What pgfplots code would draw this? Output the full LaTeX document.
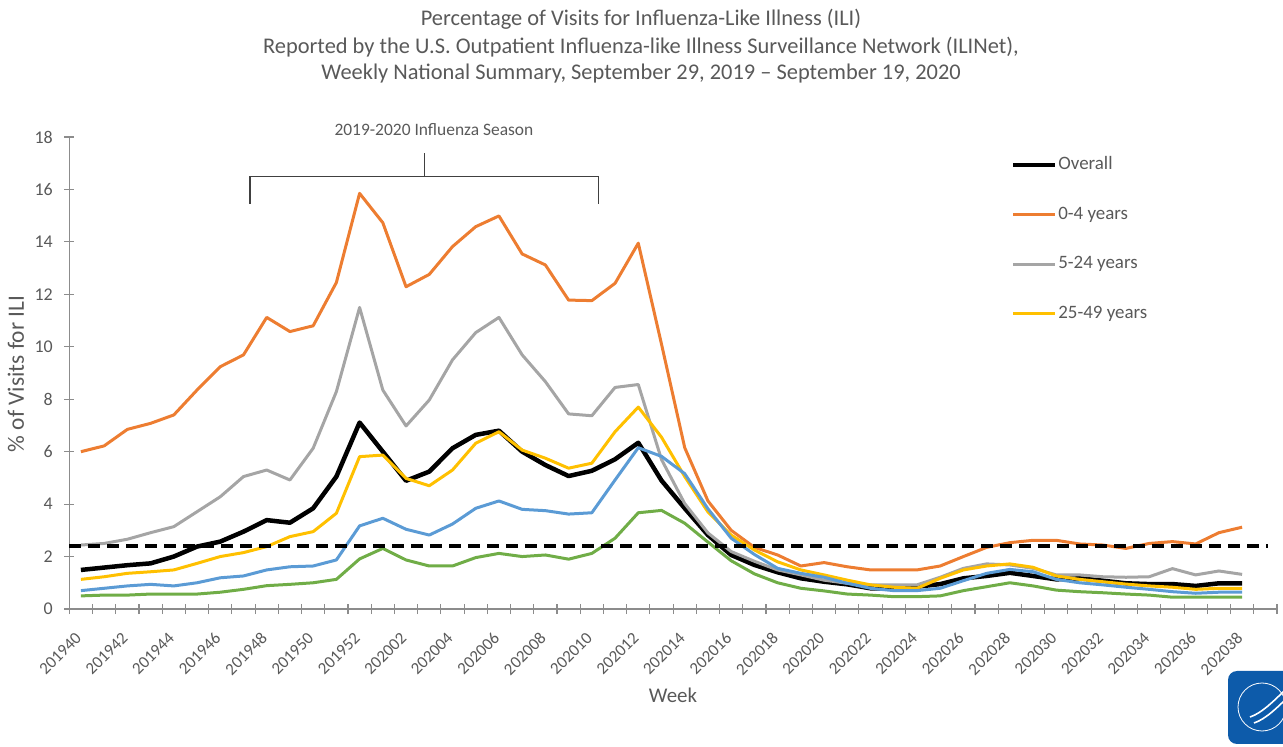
\documentclass[border=0pt]{standalone}
\usepackage{pgfplots}
\pgfplotsset{compat=1.18}
\usepackage{pgfplotstable}
\usepackage{fontspec}
\setmainfont{Carlito}
\definecolor{txtgray}{HTML}{595959}
\definecolor{axgray}{HTML}{8C8C8C}
\definecolor{cOrange}{HTML}{ED7D31}
\definecolor{cGray}{HTML}{A5A5A5}
\definecolor{cYellow}{HTML}{FFC000}
\definecolor{cBlue}{HTML}{5B9BD5}
\definecolor{cGreen}{HTML}{70AD47}
\definecolor{logoblue}{HTML}{0D5BAA}

\pgfplotstableread{
i week overall a04 a524 a2549 a5064 a65
0 201940 1.49 6.00 2.44 1.13 0.70 0.50
1 201941 1.58 6.22 2.50 1.23 0.79 0.53
2 201942 1.67 6.85 2.66 1.36 0.88 0.53
3 201943 1.74 7.08 2.91 1.42 0.94 0.57
4 201944 2.00 7.40 3.14 1.49 0.88 0.57
5 201945 2.38 8.35 3.71 1.74 1.00 0.57
6 201946 2.57 9.24 4.28 2.00 1.19 0.64
7 201947 2.95 9.69 5.05 2.15 1.26 0.75
8 201948 3.39 11.12 5.30 2.38 1.49 0.89
9 201949 3.29 10.58 4.92 2.76 1.61 0.94
10 201950 3.84 10.80 6.13 2.95 1.64 1.00
11 201951 5.05 12.45 8.29 3.65 1.87 1.13
12 201952 7.11 15.85 11.50 5.81 3.17 1.91
13 202001 6.00 14.73 8.35 5.87 3.46 2.31
14 202002 4.89 12.29 6.98 4.98 3.04 1.87
15 202003 5.24 12.76 7.97 4.70 2.82 1.64
16 202004 6.13 13.82 9.50 5.30 3.24 1.64
17 202005 6.64 14.58 10.54 6.32 3.84 1.96
18 202006 6.80 14.99 11.12 6.76 4.12 2.12
19 202007 6.00 13.54 9.69 6.06 3.80 2.00
20 202008 5.49 13.12 8.67 5.75 3.75 2.06
21 202009 5.07 11.78 7.44 5.37 3.62 1.90
22 202010 5.27 11.76 7.37 5.56 3.67 2.12
23 202011 5.71 12.42 8.45 6.76 4.92 2.70
24 202012 6.34 13.95 8.56 7.70 6.15 3.67
25 202013 4.90 10.10 5.70 6.55 5.82 3.76
26 202014 3.84 6.15 4.02 5.05 5.16 3.27
27 202015 2.82 4.12 2.90 3.70 3.82 2.55
28 202016 2.06 3.00 2.19 2.82 2.70 1.84
29 202017 1.68 2.35 1.82 2.25 2.08 1.34
30 202018 1.40 2.06 1.49 1.80 1.55 1.00
31 202019 1.17 1.64 1.30 1.49 1.36 0.79
32 202020 1.04 1.77 1.10 1.30 1.21 0.69
33 202021 0.94 1.61 0.98 1.10 0.98 0.57
34 202022 0.79 1.49 0.92 0.92 0.79 0.53
35 202023 0.79 1.49 0.92 0.83 0.70 0.47
36 202024 0.85 1.49 0.92 0.79 0.70 0.47
37 202025 0.95 1.64 1.21 1.17 0.79 0.50
38 202026 1.17 2.00 1.55 1.49 1.08 0.70
39 202027 1.26 2.35 1.72 1.64 1.36 0.85
40 202028 1.38 2.53 1.68 1.72 1.51 1.00
41 202029 1.26 2.62 1.55 1.59 1.42 0.88
42 202030 1.13 2.62 1.30 1.26 1.13 0.72
43 202031 1.17 2.48 1.30 1.13 1.00 0.66
44 202032 1.08 2.44 1.23 1.04 0.92 0.62
45 202033 0.98 2.31 1.21 0.95 0.83 0.57
46 202034 0.95 2.50 1.23 0.88 0.75 0.53
47 202035 0.95 2.57 1.54 0.83 0.66 0.45
48 202036 0.88 2.48 1.30 0.75 0.60 0.45
49 202037 0.98 2.91 1.45 0.79 0.64 0.45
50 202038 0.98 3.12 1.32 0.79 0.64 0.45
}\ilidata

\pgfplotstableread{
i base
-0.5 2.4
51.1 2.4
}\baseline

\begin{document}
\begin{tikzpicture}
\useasboundingbox (0bp,0bp) rectangle (1283bp,747bp);
% titles
\node[text=txtgray, font=\fontsize{22.5}{26}\selectfont] at (641bp,728bp) {Percentage of Visits for Influenza-Like Illness (ILI)};
\node[text=txtgray, font=\fontsize{22.5}{26}\selectfont] at (641bp,700bp) {Reported by the U.S. Outpatient Influenza-like Illness Surveillance Network (ILINet),};
\node[text=txtgray, font=\fontsize{22.5}{26}\selectfont] at (641bp,673bp) {Weekly National Summary, September 29, 2019 -- September 19, 2020};
\node[text=txtgray, rotate=90, font=\fontsize{23.5}{28}\selectfont] at (16bp,373bp) {\% of Visits for ILI};
\node[text=txtgray, font=\fontsize{21}{25}\selectfont] at (673bp,52bp) {Week};
% logo
\fill[logoblue, rounded corners=9bp] (1228bp,3bp) rectangle (1300bp,76bp);
\draw[white, line width=0.8bp] (1262bp,40bp) circle (24bp);
\draw[white, line width=1.6bp] (1250bp,30bp) .. controls (1262bp,34bp) and (1274bp,46bp) .. (1290bp,62bp);
\draw[white, line width=1.6bp] (1254bp,24bp) .. controls (1266bp,28bp) and (1278bp,40bp) .. (1292bp,54bp);

\begin{axis}[
  at={(69.3bp,138bp)}, anchor=south west,
  width=1207.7bp, height=472bp, scale only axis,
  xmin=-0.5, xmax=51.5, ymin=0, ymax=18,
  axis x line=bottom, axis y line=left,
  axis line style={-, draw=axgray, line width=1.1bp},
  clip=false,
  ytick={0,2,...,18},
  xtick={0,2,...,50},
  xticklabels={201940,201942,201944,201946,201948,201950,201952,202002,202004,202006,202008,202010,202012,202014,202016,202018,202020,202022,202024,202026,202028,202030,202032,202034,202036,202038},
  minor xtick={-0.5,0.5,...,51.5},
  tick align=center,
  major tick length=10bp, minor tick length=10bp,
  tick style={draw=axgray, line width=1.1bp},
  major x tick style={draw=none},
  /pgf/number format/assume math mode=true,
  yticklabel style={text=txtgray, font=\fontsize{18}{22}\selectfont, xshift=-8bp},
  xticklabel style={text=txtgray, font=\fontsize{17}{20}\selectfont, yshift=-20bp, xshift=-1bp, rotate=45, anchor=east, inner sep=2bp},
  legend style={draw=none, fill=none, at={(axis description cs:0.7795,0.961)}, anchor=north west,
     inner sep=0pt, row sep=30.5bp, font=\fontsize{19}{22}\selectfont, text=txtgray,
     nodes={inner sep=1bp, text height=13bp, text depth=4bp}},
  legend cell align=left,
  legend image code/.code={\draw[#1] (0bp,0bp) -- (42bp,0bp);},
]
\addplot[black, line width=4.5bp, line join=round] table[x=i, y=overall] {\ilidata};
\addlegendentry{Overall}
\addplot[cOrange, line width=3bp, line join=round] table[x=i, y=a04] {\ilidata};
\addlegendentry{0-4 years}
\addplot[cGray, line width=3bp, line join=round] table[x=i, y=a524] {\ilidata};
\addlegendentry{5-24 years}
\addplot[cYellow, line width=3bp, line join=round] table[x=i, y=a2549] {\ilidata};
\addlegendentry{25-49 years}
\addplot[cBlue, line width=3bp, line join=round, forget plot] table[x=i, y=a5064] {\ilidata};
\addplot[cGreen, line width=3bp, line join=round, forget plot] table[x=i, y=a65] {\ilidata};
\addplot[black, line width=3.5bp, dash pattern=on 12bp off 7bp, forget plot] table[x=i, y=base] {\baseline};
% season bracket
\draw[black!75, line width=1.2bp] (axis cs:7.28,15.45) -- (axis cs:7.28,16.48) -- (axis cs:22.27,16.48) -- (axis cs:22.27,15.45);
\draw[black!75, line width=1.2bp] (axis cs:14.78,16.48) -- (axis cs:14.78,17.39);
\node[text=txtgray, font=\fontsize{17.5}{21}\selectfont] at (axis cs:15.2,18.27) {2019-2020 Influenza Season};
\end{axis}
\end{tikzpicture}
\end{document}
